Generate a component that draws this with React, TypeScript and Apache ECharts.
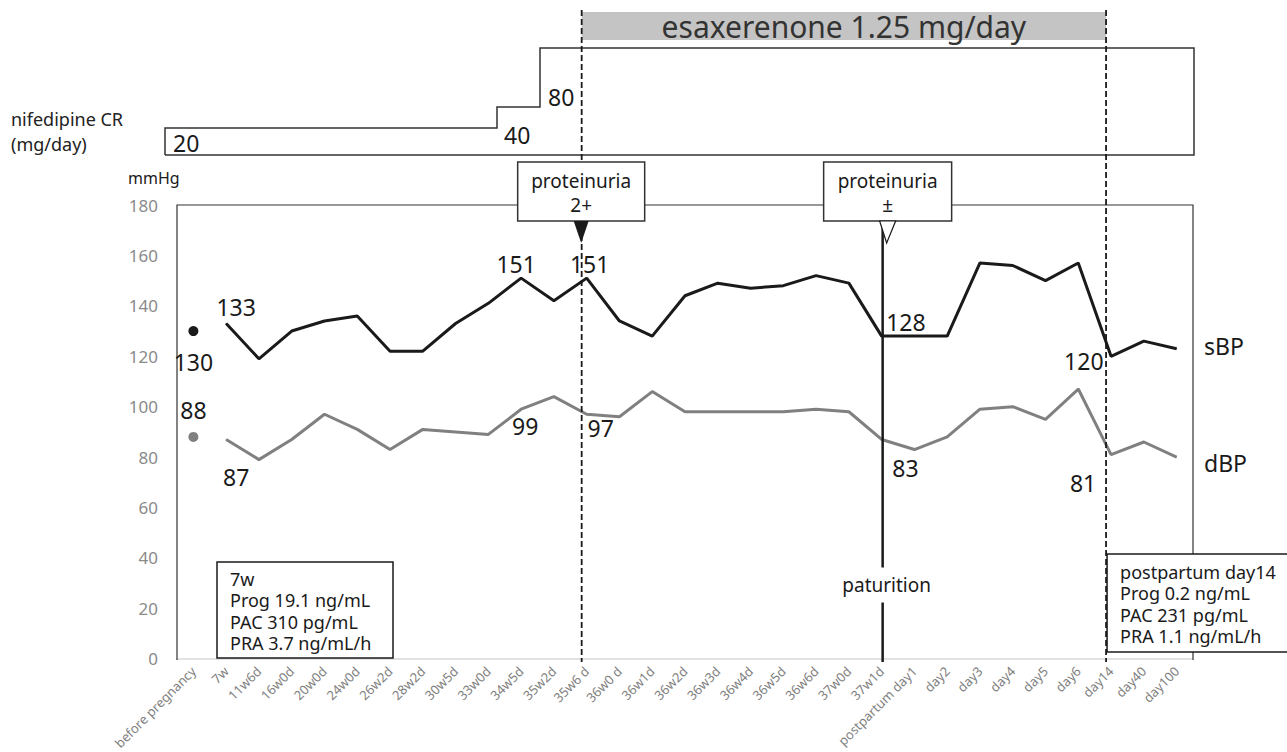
import React, { useEffect, useRef } from 'react';
import * as echarts from 'echarts';

const categories = [
  'before pregnancy', '7w', '11w6d', '16w0d', '20w0d', '24w0d', '26w2d', '28w2d', '30w5d', '33w0d',
  '34w5d', '35w2d', '35w6 d', '36w0 d', '36w1d', '36w2d', '36w3d', '36w4d', '36w5d', '36w6d',
  '37w0d', '37w1d', 'postpartum day1', 'day2', 'day3', 'day4', 'day5', 'day6', 'day14', 'day40', 'day100',
];
const sbp = [130, 133, 119, 130, 134, 136, 122, 122, 133, 141, 151, 142, 151, 134, 128, 144, 149, 147, 148, 152, 149, 128, 128, 128, 157, 156, 150, 157, 120, 126, 123];
const dbp = [88, 87, 79, 87, 97, 91, 83, 91, 90, 89, 99, 104, 97, 96, 106, 98, 98, 98, 98, 99, 98, 87, 83, 88, 99, 100, 95, 107, 81, 86, 80];
const yMin = 0;
const yMax = 180;
const yStep = 20;
const nifedipineDoses = ['20', '40', '80'];
const esaxerenoneText = 'esaxerenone 1.25 mg/day';
const labBefore = ['7w', 'Prog 19.1 ng/mL', 'PAC 310 pg/mL', 'PRA 3.7 ng/mL/h'];
const labAfter = ['postpartum day14', 'Prog 0.2 ng/mL', 'PAC 231 pg/mL', 'PRA 1.1 ng/mL/h'];
const proteinuria1 = ['proteinuria', '2+'];
const proteinuria2 = ['proteinuria', '±'];
const esaxStartIdx = 12;
const esaxEndIdx = 28;
const birthIdx = 21;

const FONT = 'Noto Sans';

const sbpLabelCfg: Record<number, any> = {
  1: { position: 'top', distance: 4, offset: [10, 0] },
  10: { position: 'top', distance: 2, offset: [-5, 0] },
  12: { position: 'top', distance: 2, offset: [3, 0] },
  21: { position: 'right', distance: 4, offset: [0, -14] },
  28: { position: 'left', distance: 7, offset: [0, 5] },
};
const dbpLabelCfg: Record<number, any> = {
  1: { position: 'bottom', distance: 26, offset: [10, 0] },
  10: { position: 'bottom', distance: 5, offset: [4, 0] },
  12: { position: 'bottom', distance: 2, offset: [14, 0] },
  22: { position: 'bottom', distance: 6, offset: [-9, 0] },
  28: { position: 'bottom', distance: 16, offset: [-28, 0] },
};

function mkLabel(cfg: any) {
  return { show: true, formatter: '{c}', color: '#1a1a1a', fontSize: 23, fontFamily: FONT, ...cfg };
}

function T(text: string, x: number, y: number, size: number, o: any = {}) {
  return {
    type: 'text',
    x,
    y,
    z: o.z ?? 30,
    style: {
      text,
      fill: o.fill || '#1a1a1a',
      fontSize: size,
      fontFamily: FONT,
      align: o.align || 'left',
      textAlign: o.align || 'left',
      verticalAlign: o.va || 'middle',
      textVerticalAlign: o.va || 'middle',
      lineHeight: o.lh,
      backgroundColor: o.bg,
      padding: o.pad,
    },
  };
}

export default function App() {
  const ref = useRef<HTMLDivElement>(null);
  useEffect(() => {
    const chart = echarts.init(ref.current!, null, { renderer: 'svg' });
    const sbpLine = sbp.map((v, i) => (i === 0 ? '-' : sbpLabelCfg[i] ? { value: v, label: mkLabel(sbpLabelCfg[i]) } : v));
    const dbpLine = dbp.map((v, i) => (i === 0 ? '-' : dbpLabelCfg[i] ? { value: v, label: mkLabel(dbpLabelCfg[i]) } : v));
    const sbpDot = sbp.map((v, i) => (i === 0 ? v : '-'));
    const dbpDot = dbp.map((v, i) => (i === 0 ? v : '-'));

    chart.setOption({
      animation: false,
      grid: { left: 177, right: 94, top: 205, bottom: 92 },
      xAxis: {
        type: 'category',
        data: categories,
        boundaryGap: true,
        axisLine: { lineStyle: { color: '#d9d9d9', width: 1.5 } },
        axisTick: { show: false },
        axisLabel: { interval: 0, rotate: 45, color: '#808080', fontSize: 13, fontFamily: FONT, margin: 10 },
        splitLine: { show: false },
      },
      yAxis: {
        type: 'value',
        min: yMin,
        max: yMax,
        interval: yStep,
        axisLine: { show: false },
        axisTick: { show: false },
        splitLine: { show: false },
        axisLabel: { color: '#8a8a8a', fontSize: 17, fontFamily: FONT, margin: 19 },
      },
      series: [
        {
          type: 'line', data: sbpLine, symbol: 'circle', symbolSize: 1, showSymbol: true,
          itemStyle: { color: '#1a1a1a' }, lineStyle: { color: '#1a1a1a', width: 3 }, z: 5,
        },
        {
          type: 'line', data: dbpLine, symbol: 'circle', symbolSize: 1, showSymbol: true,
          itemStyle: { color: '#808080' }, lineStyle: { color: '#808080', width: 3 }, z: 4,
        },
        {
          type: 'scatter', data: sbpDot, symbolSize: 10, itemStyle: { color: '#1a1a1a', opacity: 1 },
          label: mkLabel({ position: 'bottom', distance: 14 }), z: 5,
        },
        {
          type: 'scatter', data: dbpDot, symbolSize: 10, itemStyle: { color: '#808080', opacity: 1 },
          label: mkLabel({ position: 'top', distance: 10 }), z: 5,
        },
      ],
    });

    const px = (i: number) => chart.convertToPixel({ xAxisIndex: 0 }, categories[i]) as number;
    const xA = px(esaxStartIdx) - 5;
    const xB = px(esaxEndIdx) - 5;
    const xC = px(birthIdx) + 1;
    const gl = 177, gr = 1193, gt = 205, gb = 660;

    const elements: any[] = [
      { type: 'polyline', z: 1, shape: { points: [[gl, gb], [gl, gt], [gr, gt], [gr, gb]] }, style: { stroke: '#333', lineWidth: 1.2, fill: null } },
      { type: 'polyline', z: 1, shape: { points: [[165, 155], [165, 128], [497, 128], [497, 107], [540, 107], [540, 48], [gr + 1, 48], [gr + 1, 155], [165, 155]] }, style: { stroke: '#333', lineWidth: 1.5, fill: null } },
      { type: 'rect', z: 1, shape: { x: xA, y: 12, width: xB - xA, height: 28 }, style: { fill: '#c4c4c4' } },
      T(esaxerenoneText, (xA + xB) / 2, 26, 30, { align: 'center', fill: '#333' }),
      { type: 'line', z: 10, shape: { x1: xA, y1: 10, x2: xA, y2: 662 }, style: { stroke: '#1a1a1a', lineWidth: 1.8, lineDash: [6, 3] } },
      { type: 'line', z: 10, shape: { x1: xB, y1: 10, x2: xB, y2: 662 }, style: { stroke: '#1a1a1a', lineWidth: 1.8, lineDash: [6, 3] } },
      { type: 'line', z: 10, shape: { x1: xC, y1: 221, x2: xC, y2: 662 }, style: { stroke: '#1a1a1a', lineWidth: 2.5 } },
      { type: 'rect', z: 20, shape: { x: xA - 64, y: 162, width: 127, height: 59 }, style: { fill: '#fff', stroke: '#333', lineWidth: 1.5 } },
      T(proteinuria1[0], xA - 0.5, 181, 19, { align: 'center' }),
      T(proteinuria1[1], xA - 0.5, 205, 19, { align: 'center' }),
      { type: 'polygon', z: 20, shape: { points: [[xA - 8, 221], [xA + 7, 221], [xA - 0.5, 243]] }, style: { fill: '#1a1a1a' } },
      { type: 'rect', z: 20, shape: { x: xC - 59, y: 162, width: 128, height: 59 }, style: { fill: '#fff', stroke: '#333', lineWidth: 1.5 } },
      T(proteinuria2[0], xC + 5, 181, 19, { align: 'center' }),
      T(proteinuria2[1], xC + 5, 205, 19, { align: 'center' }),
      { type: 'polygon', z: 20, shape: { points: [[xC - 3, 221], [xC + 13, 221], [xC + 4, 243]] }, style: { fill: '#fff', stroke: '#1a1a1a', lineWidth: 1.2 } },
      { type: 'rect', z: 20, shape: { x: 217, y: 562, width: 176, height: 96 }, style: { fill: '#fff', stroke: '#1a1a1a', lineWidth: 1.5 } },
      T(labBefore.join('\n'), 230, 568, 18, { va: 'top', lh: 21.5 }),
      { type: 'rect', z: 20, shape: { x: xB + 1, y: 554, width: 200, height: 98 }, style: { fill: '#fff', stroke: '#1a1a1a', lineWidth: 1.5 } },
      T(labAfter.join('\n'), xB + 14, 561, 18, { va: 'top', lh: 21.5 }),
      T('paturition', xC + 4, 585, 19, { align: 'center', bg: '#fff', pad: [8, 2] }),
      T('nifedipine CR', 11, 119, 18, { fill: '#222' }),
      T('(mg/day)', 11, 144, 18, { fill: '#222' }),
      T(nifedipineDoses[0], 173, 143, 23),
      T(nifedipineDoses[1], 504, 135, 23),
      T(nifedipineDoses[2], 548, 97, 23),
      T('mmHg', 128, 178, 16),
      T('sBP', 1204, 346, 23),
      T('dBP', 1204, 463, 23),
    ];
    chart.setOption({ graphic: { elements } });

    return () => chart.dispose();
  }, []);
  return <div ref={ref} style={{ position: 'fixed', left: 0, top: 0, width: 1287, height: 752, background: '#fff' }} />;
}
